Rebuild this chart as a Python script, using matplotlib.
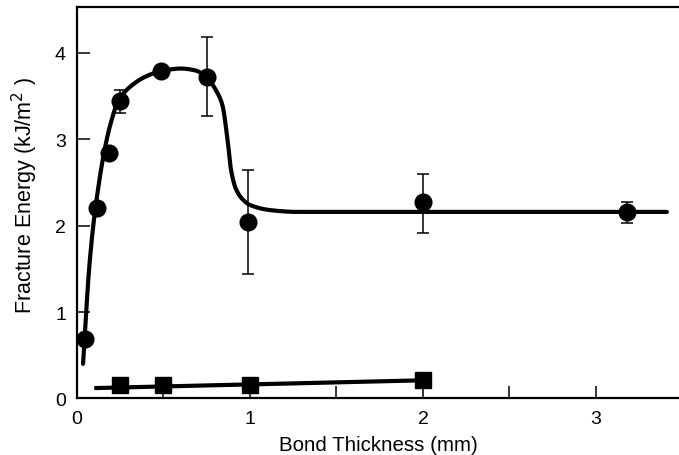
import numpy as np
import matplotlib
matplotlib.use("Agg")
import matplotlib.pyplot as plt

plt.rcParams['font.family'] = ['Liberation Sans', 'DejaVu Sans']

# circle series (with error bars where the picture shows them)
circ_x = [0.046, 0.116, 0.185, 0.25, 0.486, 0.75, 0.99, 2.0, 3.18]
circ_y = [0.69, 2.20, 2.84, 3.44, 3.79, 3.72, 2.04, 2.27, 2.16]
circ_lo = [0, 0, 0, 0.14, 0, 0.45, 0.60, 0.35, 0.13]
circ_hi = [0, 0, 0, 0.13, 0, 0.47, 0.61, 0.33, 0.11]

# square series
sq_x = [0.25, 0.5, 1.0, 2.0]
sq_y = [0.16, 0.16, 0.16, 0.21]

# straight line through the squares
sq_line_x = [0.10, 2.0]
sq_line_y = [0.12, 0.21]

# knots of the hand-drawn curve through the circles
curve_x = [0.035, 0.05, 0.07, 0.094, 0.12, 0.152, 0.19, 0.24, 0.32, 0.40,
           0.486, 0.6, 0.68, 0.75, 0.80, 0.84, 0.87, 0.89, 0.92, 0.96,
           1.0, 1.12, 1.27, 3.41]
curve_y = [0.40, 0.90, 1.50, 2.00, 2.40, 2.80, 3.15, 3.45, 3.63, 3.73,
           3.79, 3.82, 3.80, 3.72, 3.58, 3.40, 3.00, 2.65, 2.42, 2.30,
           2.24, 2.18, 2.16, 2.16]


def smooth(xk, yk, n=600):
    # monotone cubic hermite (Fritsch-Carlson) through the knots
    xk = np.asarray(xk, float)
    yk = np.asarray(yk, float)
    h = np.diff(xk)
    d = np.diff(yk) / h
    m = np.zeros_like(xk)
    m[0], m[-1] = d[0], d[-1]
    for i in range(1, len(xk) - 1):
        if d[i - 1] * d[i] <= 0:
            m[i] = 0
        else:
            w1 = 2 * h[i] + h[i - 1]
            w2 = h[i] + 2 * h[i - 1]
            m[i] = (w1 + w2) / (w1 / d[i - 1] + w2 / d[i])
    xs = np.linspace(xk[0], xk[-1], n)
    # extra density near the steep start
    xs = np.unique(np.concatenate([xs, np.linspace(xk[0], 1.3, 600)]))
    idx = np.clip(np.searchsorted(xk, xs) - 1, 0, len(h) - 1)
    t = (xs - xk[idx]) / h[idx]
    h00 = 2 * t**3 - 3 * t**2 + 1
    h10 = t**3 - 2 * t**2 + t
    h01 = -2 * t**3 + 3 * t**2
    h11 = t**3 - t**2
    ys = (h00 * yk[idx] + h10 * h[idx] * m[idx] + h01 * yk[idx + 1]
          + h11 * h[idx] * m[idx + 1])
    return xs, ys


fig = plt.figure(figsize=(6.79, 4.56), dpi=100)
ax = fig.add_axes([0.1134, 0.124, 0.8866, 0.858])

cx, cy = smooth(curve_x, curve_y)
ax.plot(cx, cy, color='black', lw=3, solid_capstyle='round', zorder=2)
ax.plot(sq_line_x, sq_line_y, color='black', lw=3, solid_capstyle='butt', zorder=2)

ax.errorbar(circ_x, circ_y, yerr=[circ_lo, circ_hi], fmt='o', color='black',
            ms=12, ecolor='black', elinewidth=1.1, capsize=4, capthick=1.1, zorder=3)
ax.plot(sq_x, sq_y, 's', color='black', ms=11.5, zorder=3)

ax.set_xlim(0, 3.48)
ax.set_ylim(0, 4.53)
ax.set_xticks([0, 0.5, 1, 1.5, 2, 2.5, 3])
ax.set_xticklabels(['0', '', '1', '', '2', '', '3'])
ax.set_yticks([0, 1, 2, 3, 4])
ax.tick_params(direction='in', length=9, width=1.1, labelsize=14, pad=8)

ax.spines['right'].set_visible(False)
for s in ['left', 'bottom', 'top']:
    ax.spines[s].set_linewidth(1.6)

ax.set_xlabel('Bond Thickness (mm)', fontsize=14.8, labelpad=6)
ax.set_ylabel('Fracture Energy (kJ/m$^{2}$ )', fontsize=15.5)
ax.yaxis.set_label_coords(-0.062, 0.52)

fig.savefig('out.png', dpi=100)
